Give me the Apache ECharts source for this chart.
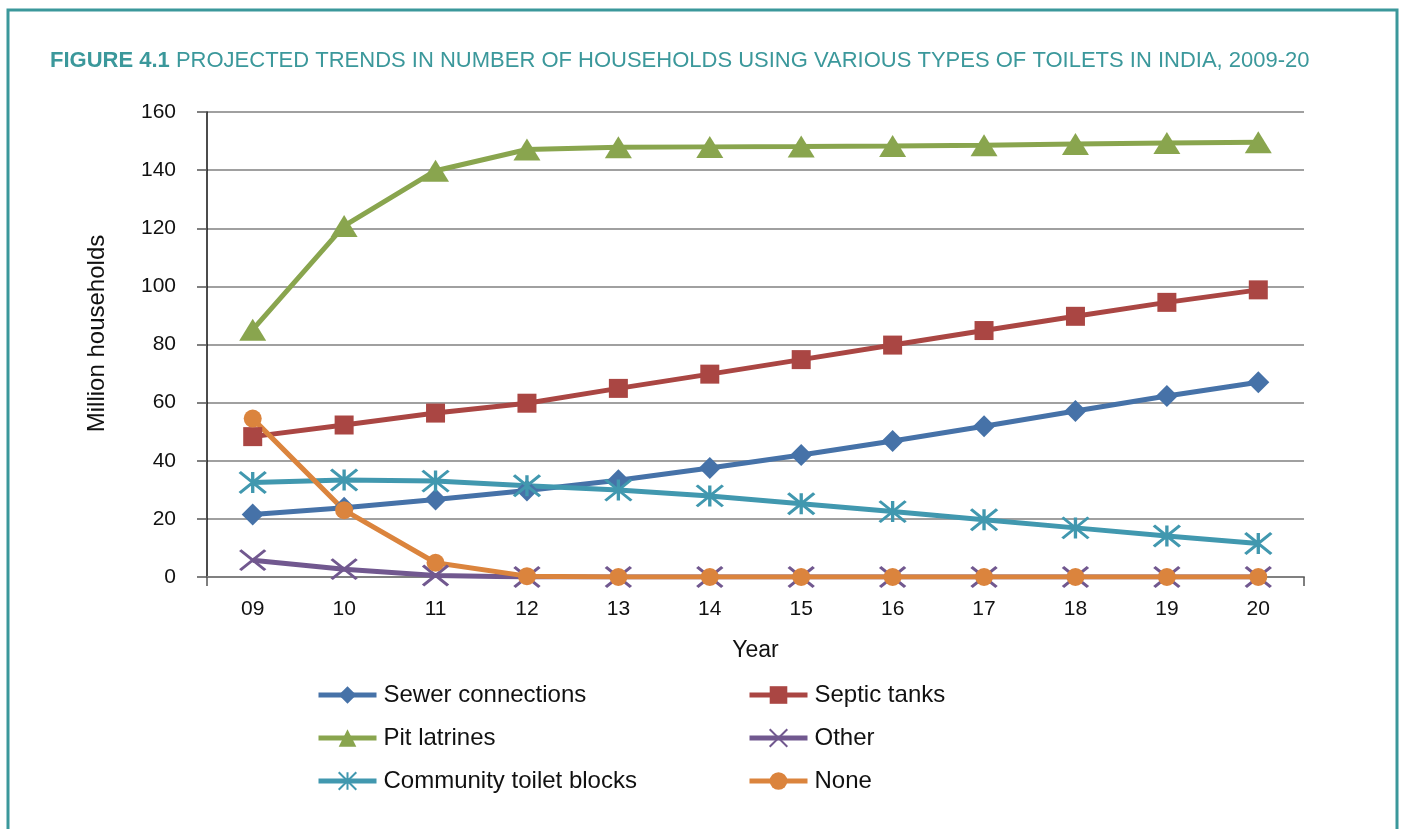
<!DOCTYPE html>
<html>
<head>
<meta charset="utf-8">
<script src="https://cdn.jsdelivr.net/npm/echarts@6/dist/echarts.min.js"></script>
<style>
html, body { margin: 0; padding: 0; background: #fff; }
#chart { width: 1403px; height: 829px; }
</style>
</head>
<body>
<div id="chart"></div>
<script>
// 数据
const years = ['09', '10', '11', '12', '13', '14', '15', '16', '17', '18', '19', '20']
const sewer = [21.5, 23.8, 26.7, 29.8, 33.3, 37.5, 42, 46.8, 51.9, 57.1, 62.3, 67]
const septic = [48.3, 52.3, 56.4, 59.8, 64.9, 69.8, 74.8, 79.8, 84.8, 89.7, 94.5, 98.8]
const pit = [85.1, 120.8, 139.8, 147.1, 147.9, 148, 148.1, 148.3, 148.6, 149, 149.3, 149.6]
const other = [5.8, 2.7, 0.5, 0, 0, 0, 0, 0, 0, 0, 0, 0]
const community = [32.5, 33.4, 33, 31.4, 29.9, 27.9, 25.2, 22.5, 19.7, 16.9, 14.1, 11.5]
const none = [54.5, 23, 4.9, 0.3, 0, 0, 0, 0, 0, 0, 0, 0]
const yTicks = { min: 0, max: 160, interval: 20 }

const font = '"Liberation Sans", Arial, sans-serif'
const teal = '#3b989b'

function makeSeries(name, data, color, symbol, size, stroke) {
    const s = {
        type: 'line',
        name: name,
        data: data,
        symbol: symbol,
        symbolSize: size,
        showAllSymbol: true,
        lineStyle: { color: color, width: 5 },
        itemStyle: { color: color },
        emphasis: { disabled: true }
    }
    if (stroke) {
        s.itemStyle = { color: 'none', borderColor: color, borderWidth: 3 }
    }
    return s
}

const legendBase = {
    top: 678, orient: 'vertical', itemGap: 19,
    itemWidth: 58, itemHeight: 22,
    lineStyle: { width: 5 },
    textStyle: { fontSize: 24, color: '#111', fontFamily: font, padding: [0, 0, 0, 2] }
}

const chart = echarts.init(document.getElementById('chart'))
const option = {
    animation: false,
    textStyle: { fontFamily: font },
    graphic: [{
        type: 'rect',
        shape: { x: 8, y: 10, width: 1389, height: 840 },
        style: { fill: 'none', stroke: teal, lineWidth: 3 }
    }],
    title: {
        left: 45, top: 45,
        text: '{b|FIGURE 4.1} PROJECTED TRENDS IN NUMBER OF HOUSEHOLDS USING VARIOUS TYPES OF TOILETS IN INDIA, 2009-20',
        textStyle: {
            color: teal, fontSize: 22, fontWeight: 'normal', fontFamily: font,
            rich: { b: { color: teal, fontSize: 22, fontWeight: 'bold', fontFamily: font } }
        }
    },
    grid: { left: 207, right: 99, top: 112, bottom: 252 },
    legend: [
        Object.assign({}, legendBase, { left: 311, data: ['Sewer connections', 'Pit latrines', 'Community toilet blocks'] }),
        Object.assign({}, legendBase, { left: 742, data: ['Septic tanks', 'Other', 'None'] })
    ],
    xAxis: {
        type: 'category',
        data: years,
        name: 'Year',
        nameLocation: 'middle',
        nameGap: 62,
        nameTextStyle: { fontSize: 23, color: '#111' },
        axisLine: { lineStyle: { color: '#808080', width: 2 } },
        axisTick: { show: true, length: 9, interval: function (i) { return i === 0 }, lineStyle: { color: '#555', width: 1.5 } },
        axisLabel: { fontSize: 21, color: '#111', margin: 22 }
    },
    yAxis: {
        type: 'value',
        min: yTicks.min, max: yTicks.max, interval: yTicks.interval,
        name: 'Million households',
        nameLocation: 'middle',
        nameGap: 98,
        nameTextStyle: { fontSize: 24, color: '#111', padding: [0, 0, 0, 22] },
        axisLine: { show: true, lineStyle: { color: '#111', width: 1.5 } },
        axisTick: { show: true, length: 10, lineStyle: { color: '#555', width: 1.5 } },
        axisLabel: { fontSize: 21, color: '#111', margin: 31 },
        splitLine: { lineStyle: { color: '#808080', width: 1.5 } }
    },
    series: [
        makeSeries('Sewer connections', sewer, '#4672a8', 'diamond', [22, 22]),
        makeSeries('Septic tanks', septic, '#aa4643', 'rect', [19, 19]),
        makeSeries('Pit latrines', pit, '#89a54e', 'triangle', [27, 22]),
        makeSeries('Other', other, '#71588f', 'path://M0,0L25,20M25,0L0,20', [25, 20], true),
        makeSeries('Community toilet blocks', community, '#4198af', 'path://M0,0L26,21M26,0L0,21M13,0L13,21', [26, 21], true),
        makeSeries('None', none, '#db843d', 'circle', [18, 18])
    ]
}
chart.setOption(option)
</script>
</body>
</html>
